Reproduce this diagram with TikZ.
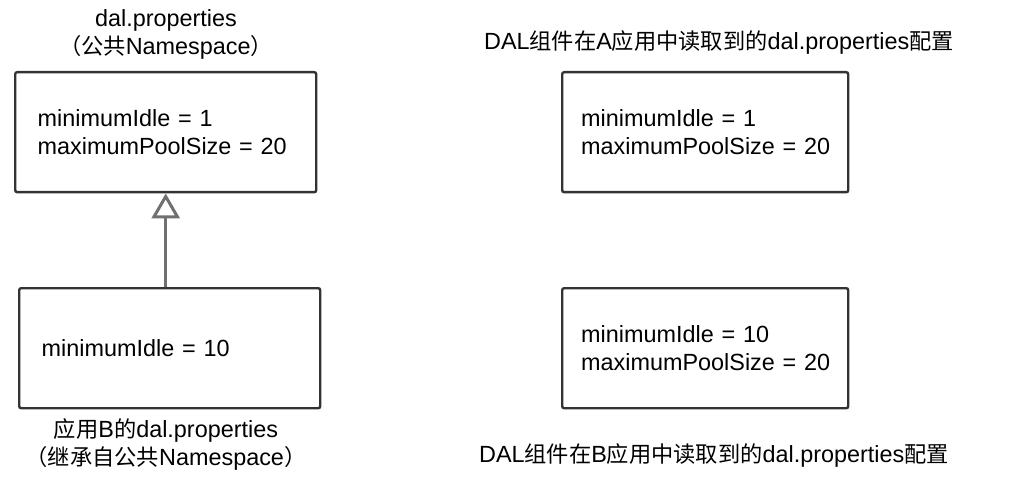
\documentclass[tikz,border=0pt]{standalone}
\usepackage{fontspec}
\setmainfont{Liberation Sans}
\newfontfamily\cjk[Scale=0.95]{Noto Sans CJK SC}
\usetikzlibrary{arrows.meta}
\definecolor{boxline}{HTML}{333333}
\definecolor{linkgray}{HTML}{707070}
\begin{document}
\begin{tikzpicture}[x=0.5pt,y=-0.5pt,
  every node/.style={font=\fontsize{11.7}{14}\selectfont},
  propbox/.style={draw=boxline,line width=1.2pt,rounded corners=1pt,
    minimum width=150.5pt,minimum height=60pt,align=left,anchor=north west,
    text width=128pt,inner xsep=11pt},
  readbox/.style={propbox,text width=127pt,inner xsep=8pt,minimum width=143pt},
  caption/.style={align=center},
  inherit/.style={draw=linkgray,line width=1.5pt,
    -{Triangle[open,width=14pt,length=12.5pt,fill=white]}}]
\useasboundingbox (0,0) rectangle (1010,486);
\node[propbox] (pub) at (14,71) {minimumIdle = 1\\maximumPoolSize = 20};
\node[propbox] (appb) at (18,287) {minimumIdle = 10};
\node[readbox] (reada) at (561,71) {\hspace*{1.5pt}minimumIdle = 1\\\hspace*{1.5pt}maximumPoolSize = 20};
\node[readbox] (readb) at (561,287) {\hspace*{1.5pt}minimumIdle = 10\\\hspace*{1.5pt}maximumPoolSize = 20};
\node[caption] (publ) at (166,34) {dal.properties\\{\cjk （公共}Namespace{\cjk ）}};
\node[caption] (appbl) at (166,444) {{\cjk 应用}B{\cjk 的}dal.properties\\{\cjk （继承自公共}Namespace{\cjk ）}};
\node[caption] (readal) at (719,43) {DAL{\cjk 组件在}A{\cjk 应用中读取到的}dal.properties{\cjk 配置}};
\node[caption] (readbl) at (714,455) {DAL{\cjk 组件在}B{\cjk 应用中读取到的}dal.properties{\cjk 配置}};
\draw[inherit] (appb.north -| pub.south) -- (pub.south);
\end{tikzpicture}
\end{document}
